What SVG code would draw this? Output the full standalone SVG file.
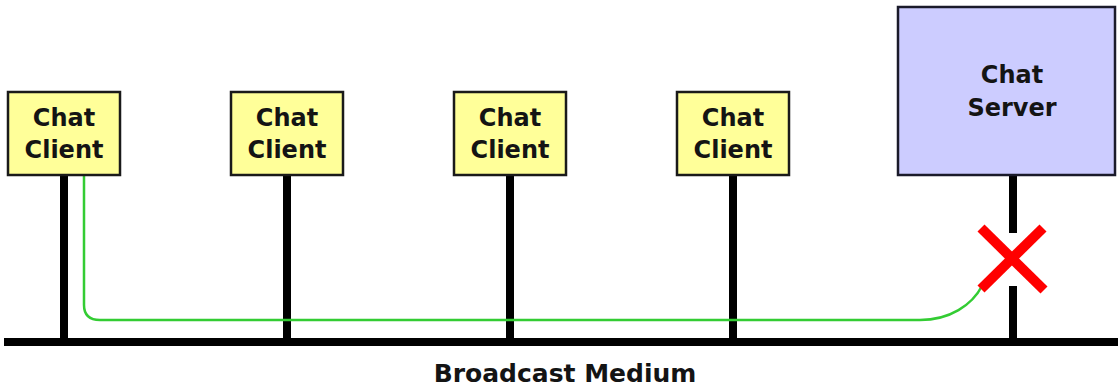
<svg xmlns="http://www.w3.org/2000/svg" width="1118" height="388" viewBox="0 0 1118 388">
<style>
.client{fill:#ffff99;stroke:#1a1a1a;stroke-width:2.5}
.server{fill:#ccccff;stroke:#1a1a2a;stroke-width:2.5}
.lbl{font-family:"DejaVu Sans",sans-serif;font-weight:bold;font-size:24px;fill:#141414;text-anchor:middle}
.wire{stroke:#000;stroke-width:8;fill:none}
.msg{stroke:#33cc33;stroke-width:2.5;fill:none}
.x{stroke:#ff0000;stroke-width:10;stroke-linecap:butt}
</style>
<rect width="1118" height="388" fill="#ffffff"/>
<g id="connectors">
<line class="wire" x1="4" y1="342" x2="1118" y2="342"/>
<line class="wire" x1="64" y1="175" x2="64" y2="342"/>
<line class="wire" x1="287" y1="175" x2="287" y2="342"/>
<line class="wire" x1="510" y1="175" x2="510" y2="342"/>
<line class="wire" x1="733" y1="175" x2="733" y2="342"/>
<line class="wire" x1="1013" y1="175" x2="1013" y2="233"/>
<line class="wire" x1="1013" y1="286" x2="1013" y2="342"/>
<path class="msg" d="M84,174 L84,305 Q84,320 100,320 L920,320 C950,320 972,305 982,286"/>
<g id="blocked">
<line class="x" x1="981" y1="228" x2="1044" y2="290"/>
<line class="x" x1="1043" y1="228" x2="981" y2="289"/>
</g>
</g>
<g id="client1">
<rect class="client" x="8" y="92" width="112" height="83"/>
<text class="lbl" x="64" y="126">Chat</text>
<text class="lbl" x="64" y="158">Client</text>
</g>
<g id="client2">
<rect class="client" x="231" y="92" width="112" height="83"/>
<text class="lbl" x="287" y="126">Chat</text>
<text class="lbl" x="287" y="158">Client</text>
</g>
<g id="client3">
<rect class="client" x="454" y="92" width="112" height="83"/>
<text class="lbl" x="510" y="126">Chat</text>
<text class="lbl" x="510" y="158">Client</text>
</g>
<g id="client4">
<rect class="client" x="677" y="92" width="112" height="83"/>
<text class="lbl" x="733" y="126">Chat</text>
<text class="lbl" x="733" y="158">Client</text>
</g>
<g id="server">
<rect class="server" x="898" y="7" width="217" height="168"/>
<text class="lbl" x="1012" y="83">Chat</text>
<text class="lbl" x="1012" y="116">Server</text>
</g>
<g id="medium">
<text class="lbl" x="565" y="382" style="font-size:25px">Broadcast Medium</text>
</g>
</svg>
